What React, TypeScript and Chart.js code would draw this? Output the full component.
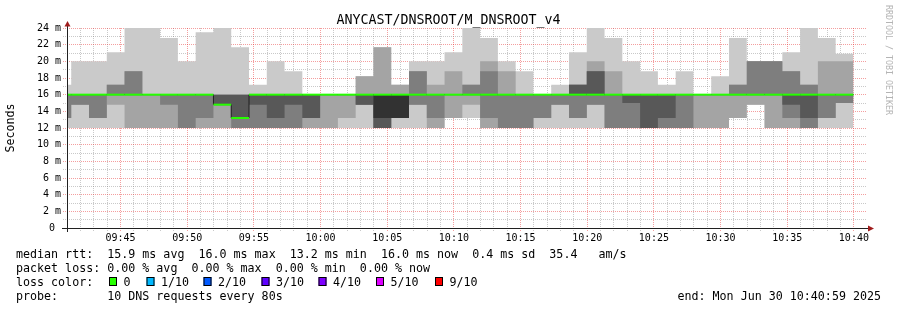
import { useEffect, useRef } from 'react';
import { Chart, registerables } from 'chart.js';

Chart.register(...registerables);

// ---- time axis (seconds of the day) ----
const START = 34859; // 09:40:59
const END = 38459; // 10:40:59
const STEP = 80; // probe interval, s
const FIRST_STEP = 34878; // first full 80 s step boundary

// ---- sorted RTTs (ms) of the 10 DNS probes in every 80 s step ----
const ping1 = [12, 12, 12, 12, 12, 12, 12, 12, 12, 12, 12, 12, 12, 12, 12, 12, 12, 12, 12, 12, 12, 12, 13.2, 13.2, 12, 12, 12, 12, 12, 12, 12, 12, 12, 12, 12, 12, 12, 12, 13.2, 14.8, 12, 12, 12, 12, 12];
const ping2 = [13.2, 14.8, 13.2, 14.8, 12, 12, 12, 12, 12, 12, 12, 12, 12, 12, 12, 12, 13.2, 14.8, 12, 13.2, 14.8, 12, 13.2, 14.8, 12, 12, 12, 13.2, 14.8, 13.2, 14.8, 12, 12, 12, 12, 12, 12, 12, 13.2, 14.8, 12, 12, 12, 13.2, 15];
const ping3 = [13.2, 14.8, 13.2, 16, 16, 16, 14.8, 12, 13.2, 14.8, 12, 12, 12, 12, 13.2, 16, 16, 14.8, 12, 13.2, 14.8, 13.2, 16, 16, 13.2, 12, 12, 13.2, 14.8, 13.2, 14.8, 12, 12, 12, 12, 12, 16, 16, 16, 16, 16, 13.2, 12, 13.2, 15];
const ping4 = [16, 16, 16, 16, 16, 16, 16, 16, 16, 14.8, 13.2, 14.8, 13.2, 14.8, 13.2, 16, 16, 14.8, 12, 13.2, 16, 16, 16, 16, 16, 16, 16, 16, 16, 16, 16, 16, 15, 12, 13.2, 16, 16, 16, 16, 16, 16, 14.8, 13.2, 16, 16];
const ping5 = [16, 16, 16, 16, 16, 16, 16, 16, 16, 14.8, 13.2, 16, 16, 16, 16, 16, 16, 16, 13.2, 13.2, 16, 16, 16, 16, 16, 16, 16, 16, 16, 16, 16, 16, 16, 16, 16, 16, 16, 16, 16, 16, 16, 16, 16, 16, 16];
const ping6 = [16, 16, 16, 16, 16, 16, 16, 16, 16, 14.8, 13.2, 16, 16, 16, 16, 16, 16, 16, 16, 16, 16, 16, 16, 16, 16, 16, 16, 16, 16, 16, 16, 16, 16, 16, 16, 16, 16, 16, 16, 16, 16, 16, 16, 16, 16];
const ping7 = [16, 16, 16, 16, 16, 16, 16, 16, 16, 16, 16, 16, 16, 16, 16, 16, 16, 16, 16, 16, 16, 16, 16, 16, 16, 16, 16, 16, 16, 17.2, 18.8, 16, 16, 16, 16, 16, 16, 16, 16, 16, 16, 16, 16, 16, 16];
const ping8 = [16, 16, 16, 17.2, 18.8, 16, 16, 16, 16, 16, 16, 16, 16, 16, 16, 16, 16, 16, 16, 16, 18.8, 16, 16, 17.2, 18.8, 16, 16, 16, 16, 17.2, 18.8, 16, 16, 16, 16, 16, 16, 16, 17.2, 20, 20, 18.8, 17.2, 16, 16];
const ping9 = [16, 16, 16, 17.2, 18.8, 16, 16, 16, 16, 16, 16, 16, 16, 16, 16, 16, 16, 18.2, 21.7, 17.2, 18.8, 17.2, 18.8, 17.2, 20, 18.8, 16, 16, 16, 17.2, 20, 18.8, 16, 16, 16, 16, 16, 16, 17.2, 20, 20, 18.8, 17.2, 20, 20];
const ping10 = [17.2, 20, 20, 21.1, 24, 24, 22.8, 20, 23.5, 24, 21.7, 17.2, 20, 18.8, 16, 16, 16, 18.2, 21.7, 17.2, 20, 20, 21.1, 24, 22.8, 20, 18.8, 16, 17.2, 21.1, 24, 22.8, 20, 18.8, 17.2, 18.8, 16, 18.2, 22.8, 20, 20, 21.1, 24, 22.8, 20.9];
const medianRtt = [16, 16, 16, 16, 16, 16, 16, 16, 16, 14.8, 13.2, 16, 16, 16, 16, 16, 16, 16, 16, 16, 16, 16, 16, 16, 16, 16, 16, 16, 16, 16, 16, 16, 16, 16, 16, 16, 16, 16, 16, 16, 16, 16, 16, 16, 16];

// ---- texts ----
const TITLE = 'ANYCAST/DNSROOT/M_DNSROOT_v4';
const Y_TITLE = 'Seconds';
const WATERMARK = 'RRDTOOL / TOBI OETIKER';
const statsLine = 'median rtt:  15.9 ms avg  16.0 ms max  13.2 ms min  16.0 ms now  0.4 ms sd  35.4   am/s';
const lossLine = 'packet loss: 0.00 % avg  0.00 % max  0.00 % min  0.00 % now';
const lossColorTitle = 'loss color:';
const lossLabels = ['0', '1/10', '2/10', '3/10', '4/10', '5/10', '9/10'];
const lossColors = ['#26ff00', '#00b8ff', '#0059ff', '#5e00ff', '#7e00ff', '#dd00ff', '#ff0000'];
const probeLine = 'probe:       10 DNS requests every 80s';
const endLine = 'end: Mon Jun 30 10:40:59 2025';

// ---- styles ----
const MONO = '"DejaVu Sans Mono", monospace';
const SMOKE = ['#cacaca', '#a4a4a4', '#7e7e7e', '#585858', '#323232'];
const MINOR = 'rgba(120,120,120,0.4)';
const MAJOR = 'rgba(230,40,40,0.45)';
const AXIS = '#202020';
const ARROW = '#a01c1c';
const legendBoxX = [109, 146.5, 203.5, 261.5, 318.5, 376, 435];

const stepX = [START, ...Array.from({ length: ping1.length - 1 }, (_, k) => FIRST_STEP + k * STEP)];
const stepEnd = FIRST_STEP + (ping1.length - 1) * STEP;
const stepped = (vals: number[]) => [
  ...vals.map((v, i) => ({ x: stepX[i], y: v })),
  { x: stepEnd, y: vals[vals.length - 1] },
];

const minuteTicks: number[] = [];
for (let t = Math.ceil(START / 60) * 60; t <= END; t += 60) minuteTicks.push(t);

const hhmm = (s: number) => {
  const h = Math.floor(s / 3600);
  const m = Math.floor((s % 3600) / 60);
  return `${String(h).padStart(2, '0')}:${String(m).padStart(2, '0')}`;
};

function buildDatasets() {
  const pings = [ping1, ping2, ping3, ping4, ping5, ping6, ping7, ping8, ping9, ping10];
  const ds: any[] = [];
  const medianSegs = medianRtt.flatMap((m, i) => [
    { x: stepX[i], y: m },
    { x: i < medianRtt.length - 1 ? stepX[i + 1] : stepEnd, y: m },
  ]);
  ds.push({
    data: medianSegs,
    borderColor: lossColors[0],
    borderWidth: 2,
    pointRadius: 0,
    fill: false,
    order: 0,
    segment: {
      borderColor: (c: any) => (c.p0.parsed.x === c.p1.parsed.x ? 'rgba(0,0,0,0)' : lossColors[0]),
    },
  });
  ds.push({
    data: stepped(medianRtt),
    stepped: true,
    borderColor: '#202020',
    borderWidth: 1,
    pointRadius: 0,
    fill: false,
    order: 1,
  });
  for (let L = 0; L < 5; L++) {
    const lowIdx = ds.length;
    ds.push({
      data: stepped(pings[L]),
      stepped: true,
      borderWidth: 0,
      borderColor: 'rgba(0,0,0,0)',
      pointRadius: 0,
      fill: false,
      order: 6 - L,
    });
    ds.push({
      data: stepped(pings[9 - L]),
      stepped: true,
      borderWidth: 0,
      borderColor: 'rgba(0,0,0,0)',
      backgroundColor: SMOKE[L],
      pointRadius: 0,
      fill: { target: lowIdx },
      order: 6 - L,
    });
  }
  return ds;
}

const decorPlugin = {
  id: 'rrdDecor',
  afterDraw(chart: any) {
    const { ctx, chartArea: a } = chart;
    ctx.save();
    // axes
    ctx.strokeStyle = AXIS;
    ctx.lineWidth = 1;
    ctx.beginPath();
    ctx.moveTo(a.left - 5, a.bottom + 0.5);
    ctx.lineTo(a.right + 1, a.bottom + 0.5);
    ctx.moveTo(a.left + 0.5, a.bottom + 4);
    ctx.lineTo(a.left + 0.5, a.top - 2);
    ctx.stroke();
    ctx.fillStyle = ARROW;
    ctx.beginPath();
    ctx.moveTo(a.right + 7, a.bottom + 0.5);
    ctx.lineTo(a.right + 1, a.bottom - 2.5);
    ctx.lineTo(a.right + 1, a.bottom + 3.5);
    ctx.closePath();
    ctx.fill();
    ctx.beginPath();
    ctx.moveTo(a.left + 0.5, a.top - 7);
    ctx.lineTo(a.left - 2.5, a.top - 1.5);
    ctx.lineTo(a.left + 3.5, a.top - 1.5);
    ctx.closePath();
    ctx.fill();

    // title
    ctx.fillStyle = '#000';
    ctx.textBaseline = 'alphabetic';
    ctx.textAlign = 'center';
    ctx.font = `13.3px ${MONO}`;
    ctx.fillText(TITLE, 448.5, 24);

    // vertical axis title
    ctx.save();
    ctx.translate(14, (a.top + a.bottom) / 2);
    ctx.rotate(-Math.PI / 2);
    ctx.font = `11.66px ${MONO}`;
    ctx.textAlign = 'center';
    ctx.fillText(Y_TITLE, 0, 0);
    ctx.restore();

    // watermark
    ctx.save();
    ctx.translate(886, 5);
    ctx.rotate(Math.PI / 2);
    ctx.font = `8.3px ${MONO}`;
    ctx.textAlign = 'left';
    ctx.fillStyle = '#b4b4b4';
    ctx.fillText(WATERMARK, 0, 0);
    ctx.restore();

    // legend
    ctx.font = `11.66px ${MONO}`;
    ctx.textAlign = 'left';
    ctx.fillStyle = '#000';
    ctx.fillText(statsLine, 16, 258);
    ctx.fillText(lossLine, 16, 272);
    ctx.fillText(lossColorTitle, 16, 286);
    ctx.fillText(probeLine, 16, 300);
    lossLabels.forEach((lab, i) => {
      const bx = legendBoxX[i];
      ctx.fillStyle = lossColors[i];
      ctx.fillRect(bx, 277, 8, 9);
      ctx.strokeStyle = '#000';
      ctx.strokeRect(bx + 0.5, 277.5, 7, 8);
      ctx.fillStyle = '#000';
      ctx.fillText(lab, bx + 14.5, 286);
    });
    ctx.textAlign = 'right';
    ctx.fillText(endLine, 881, 300);
    ctx.restore();
  },
};

export default function App() {
  const ref = useRef<HTMLCanvasElement>(null);
  useEffect(() => {
    const chart = new Chart(ref.current as HTMLCanvasElement, {
      type: 'line',
      data: { datasets: buildDatasets() },
      options: {
        animation: false,
        responsive: false,
        devicePixelRatio: 1,
        events: [],
        layout: { padding: { left: 0, top: 28, right: 30, bottom: 60 } },
        plugins: { legend: { display: false }, tooltip: { enabled: false }, title: { display: false } },
        elements: { line: { tension: 0 }, point: { radius: 0 } },
        scales: {
          x: {
            type: 'linear',
            min: START,
            max: END,
            bounds: 'data',
            z: 1,
            afterBuildTicks: (s: any) => {
              s.ticks = minuteTicks.map((v) => ({ value: v }));
            },
            afterFit: (s: any) => {
              s.height = 22;
            },
            grid: {
              color: (c: any) => (c.tick && c.tick.value % 300 === 0 ? MAJOR : MINOR),
              tickColor: (c: any) => (c.tick && c.tick.value % 300 === 0 ? MAJOR : MINOR),
              lineWidth: 1,
              drawTicks: true,
              tickLength: 3,
              tickBorderDash: [1, 1],
            },
            border: { display: false, dash: [1, 1] },
            ticks: {
              autoSkip: false,
              maxRotation: 0,
              minRotation: 0,
              padding: 1,
              color: '#000',
              font: { family: MONO, size: 10 },
              callback: (v: any) => (Number(v) % 300 === 0 ? hhmm(Number(v)) : ''),
            },
          },
          y: {
            type: 'linear',
            min: 0,
            max: 24,
            z: 1,
            afterFit: (s: any) => {
              s.width = 67;
            },
            grid: {
              color: (c: any) => (c.tick && c.tick.value % 2 === 0 ? MAJOR : MINOR),
              tickColor: (c: any) => (c.tick && c.tick.value % 2 === 0 ? MAJOR : MINOR),
              lineWidth: 1,
              drawTicks: true,
              tickLength: 4,
              tickBorderDash: [1, 1],
            },
            border: { display: false, dash: [1, 1] },
            ticks: {
              stepSize: 1,
              autoSkip: false,
              padding: 2,
              color: '#000',
              font: { family: MONO, size: 10 },
              callback: (v: any) => {
                const n = Number(v);
                if (n % 2 !== 0) return '';
                return n === 0 ? '0 ' : `${n} m`;
              },
            },
          },
        },
      } as any,
      plugins: [decorPlugin],
    });
    return () => chart.destroy();
  }, []);
  return (
    <div style={{ position: 'fixed', left: 0, top: 0, width: 897, height: 310, background: '#fff' }}>
      <canvas ref={ref} width={897} height={310} style={{ display: 'block', width: 897, height: 310 }} />
    </div>
  );
}
